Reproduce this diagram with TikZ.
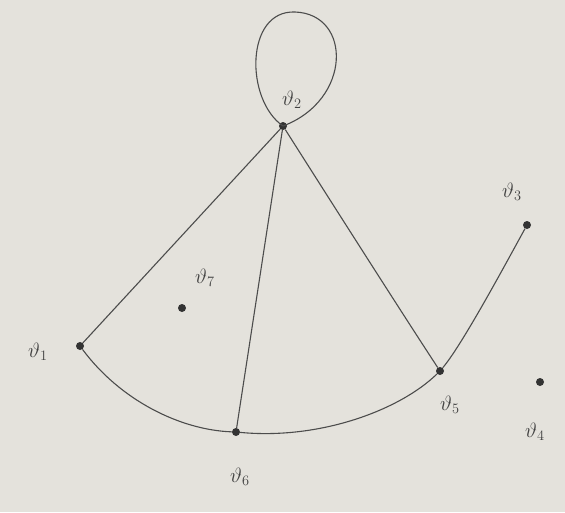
\documentclass[tikz,border=0pt]{standalone}
\begin{document}
\begin{tikzpicture}[x=1pt,y=-1pt,
  vtx/.style={circle,fill=black!80,inner sep=0pt,minimum size=8pt},
  edge/.style={draw=black!70,line width=1.1pt},
  lbl/.style={text=black!75,font=\fontsize{22}{26}\selectfont,inner sep=0pt}]
\definecolor{paper}{RGB}{228,226,220}
\fill[paper] (0,0) rectangle (565,512);
\useasboundingbox (0,0) rectangle (565,512);
\node[vtx] (v2) at (283,126) {};
\node[vtx] (v1) at (80,346) {};
\node[vtx] (v6) at (236,432) {};
\node[vtx] (v5) at (440,371) {};
\node[vtx] (v3) at (527,225) {};
\node[vtx] (v4) at (540,382) {};
\node[vtx] (v7) at (182,308) {};
% loop
\draw[edge] (v2.center) .. controls (245,100) and (245,10) .. (295,12)
  .. controls (352,14) and (352,100) .. (v2.center);
\draw[edge] (v2) -- (v1);
\draw[edge] (v2) -- (v6);
\draw[edge] (v2) .. controls (330,200) and (400,310) .. (v5);
\draw[edge] (v1) .. controls (120,400) and (180,430) .. (v6);
\draw[edge] (v6) .. controls (320,440) and (400,410) .. (v5);
\draw[edge] (v5) .. controls (462,345) and (505,265) .. (v3);
% labels
\node[lbl] (l2) at (292,100) {$\vartheta_{2}$};
\node[lbl] (l3) at (512,192) {$\vartheta_{3}$};
\node[lbl] (l4) at (535,432) {$\vartheta_{4}$};
\node[lbl] (l5) at (450,405) {$\vartheta_{5}$};
\node[lbl] (l6) at (240,477) {$\vartheta_{6}$};
\node[lbl] (l7) at (205,278) {$\vartheta_{7}$};
\node[lbl] (l1) at (38,352) {$\vartheta_{1}$};
\end{tikzpicture}
\end{document}
